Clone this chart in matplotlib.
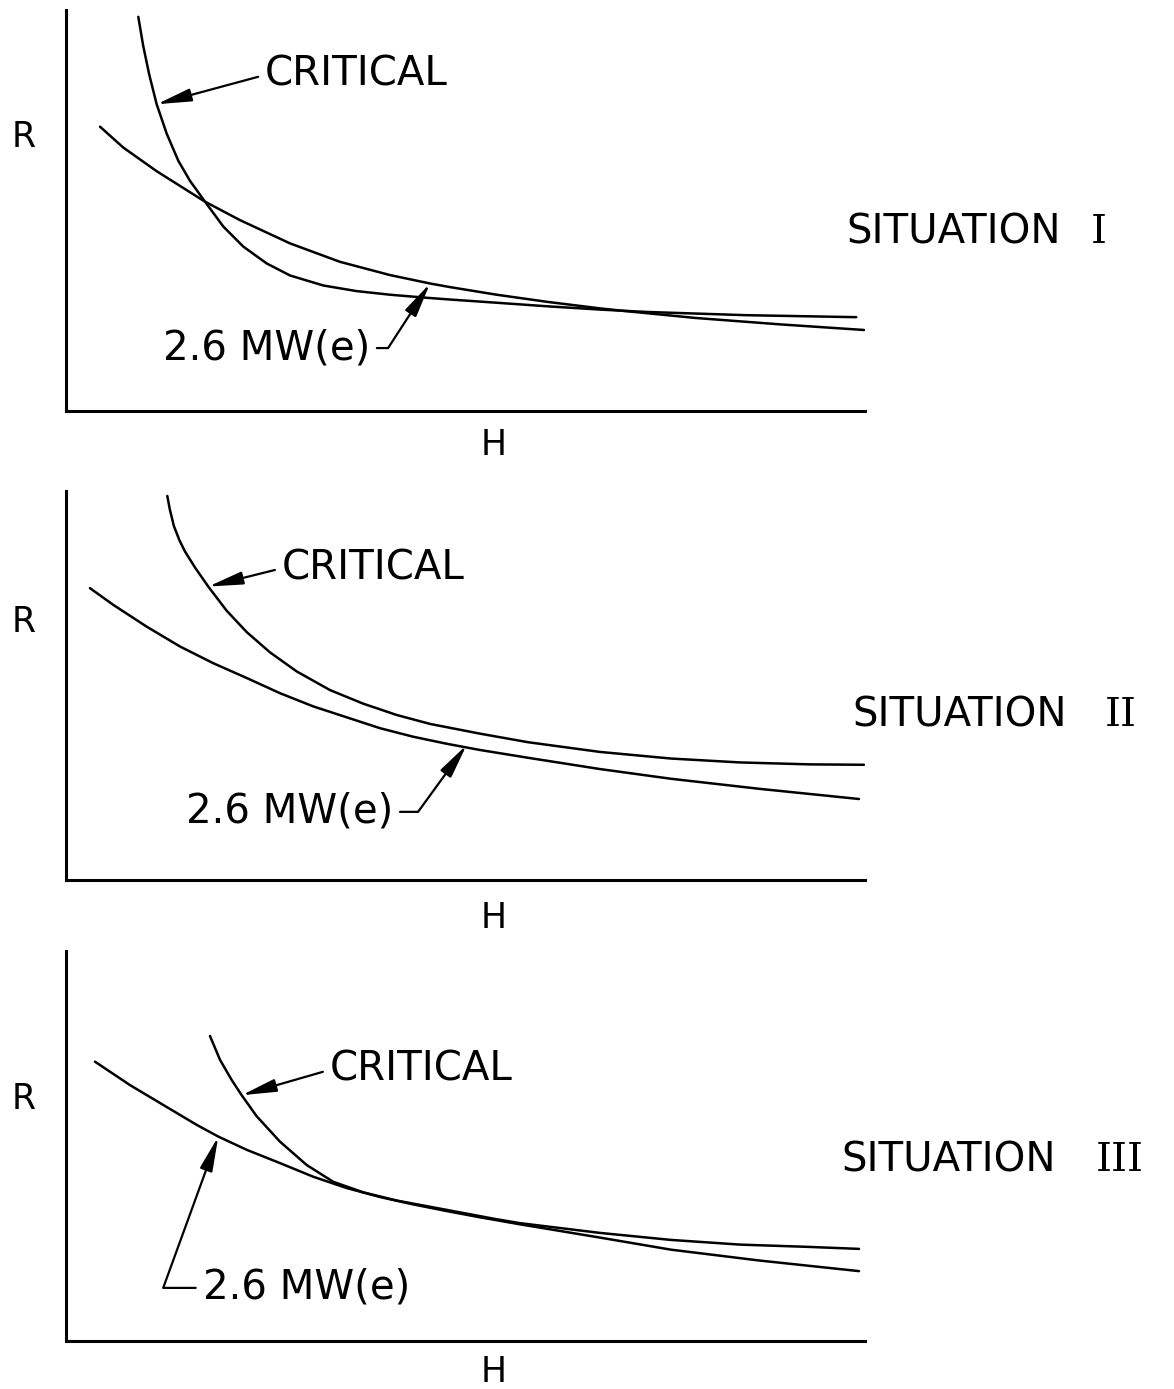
import matplotlib
matplotlib.use("Agg")
import matplotlib.pyplot as plt

# three sketches of R against H (arbitrary units 0-100)
situations = ["I", "II", "III"]

# situation I
h_crit_1 = [9.05, 9.67, 10.43, 11.35, 12.60, 14.06, 15.52, 17.40, 19.69, 22.19, 25.12, 28.04, 32.20, 36.38,
            40.55, 44.72, 48.06, 53.9, 60.3, 66.8, 72.7, 85.0, 98.9]
r_crit_1 = [98.3, 91.0, 83.8, 76.5, 69.2, 62.4, 57.4, 52.2, 46.0, 41.0, 36.8, 33.8, 31.3, 29.9,
            29.0, 28.3, 27.8, 27.0, 26.1, 25.3, 24.7, 23.9, 23.4]
h_mw_1 = [4.26, 7.17, 11.35, 17.40, 21.78, 28.04, 34.29, 40.55, 45.56, 48.06, 53.9, 60.3, 66.8, 69.6,
          78.8, 89.4, 99.9]
r_mw_1 = [70.9, 65.7, 59.8, 52.2, 47.6, 41.8, 37.2, 33.9, 31.8, 30.9, 29.0, 27.2, 25.6, 25.0,
          23.2, 21.6, 20.2]

# situation II
h_crit_2 = [12.68, 13.0, 13.5, 14.2, 14.9, 16.15, 17.81, 20.11, 22.62, 25.53, 28.87, 33.04, 37.21, 41.39,
            45.56, 51.81, 57.82, 66.83, 75.72, 84.36, 93.12, 99.87]
r_crit_2 = [98.7, 95.2, 91.0, 87.3, 84.4, 80.3, 75.4, 69.2, 63.7, 58.5, 53.6, 48.8, 45.3, 42.4,
            40.1, 37.6, 35.4, 32.9, 31.2, 30.2, 29.7, 29.6]
h_mw_2 = [3.00, 5.92, 10.10, 14.27, 18.44, 22.62, 26.78, 30.95, 35.13, 39.30, 43.47, 47.65, 51.81,
          57.82, 66.83, 75.72, 86.86, 99.25]
r_mw_2 = [75.0, 70.7, 65.1, 60.0, 55.7, 51.9, 48.0, 44.6, 41.8, 39.0, 36.8, 35.0, 33.4,
          31.4, 28.5, 26.0, 23.4, 20.8]

# situation III
h_crit_3 = [18.02, 19.27, 20.74, 21.99, 23.87, 26.78, 30.13, 33.45, 37.21, 41.39, 47.65, 53.90, 56.82,
            66.83, 75.72, 84.36, 93.12, 99.25]
r_crit_3 = [78.2, 72.1, 66.9, 63.0, 57.6, 51.1, 45.1, 40.8, 38.1, 36.0, 33.6, 31.2, 30.2,
            27.7, 25.9, 24.7, 24.1, 23.6]
h_mw_3 = [3.63, 8.01, 12.18, 16.36, 19.06, 22.62, 26.78, 30.95, 35.13, 39.30, 43.47, 47.65, 51.81,
          56.82, 66.83, 75.72, 86.86, 99.25]
r_mw_3 = [71.6, 65.6, 60.5, 55.4, 52.4, 49.0, 45.6, 42.1, 39.2, 36.9, 35.0, 33.3, 31.7,
          29.9, 26.5, 23.4, 20.6, 17.9]

crit_h = [h_crit_1, h_crit_2, h_crit_3]
crit_r = [r_crit_1, r_crit_2, r_crit_3]
mw_h = [h_mw_1, h_mw_2, h_mw_3]
mw_r = [r_mw_1, r_mw_2, r_mw_3]

# where the arrows point (on the curves) and where the labels sit
crit_tip = [(11.35, 76.5), (17.81, 75.4), (21.99, 63.0)]
crit_txt = [(24.9, 83.8), (27.0, 80.1), (33.0, 69.5)]
mw_tip = [(45.56, 31.8), (50.15, 34.7), (19.06, 52.4)]
mw_txt = [(12.1, 15.7), (15.0, 17.5), (17.1, 13.6)]
mw_side = ["right", "right", "left"]
mw_angle = [57, 54, 70]

axes_box = [
    [0.0562, 0.7041, 0.6806, 0.2887],
    [0.0562, 0.3665, 0.6806, 0.2801],
    [0.0562, 0.0346, 0.6806, 0.2808],
]
r_pos = [0.683, 0.663, 0.621]
h_pos = [-0.085, -0.098, -0.079]
sit_pos = [(0.977, 1.283, 0.446), (0.984, 1.300, 0.422), (0.971, 1.289, 0.462)]

plt.rcParams["font.family"] = ["DejaVu Sans"]
fs = 29
arrow = dict(arrowstyle="-|>,head_length=1.5,head_width=0.28", color="black", lw=1.6,
             mutation_scale=14, shrinkA=3, shrinkB=0)

fig = plt.figure(figsize=(11.74, 13.89), dpi=100)
for i in range(3):
    ax = fig.add_axes(axes_box[i])
    ax.plot(crit_h[i], crit_r[i], color="black", lw=1.8, solid_capstyle="round", solid_joinstyle="round")
    ax.plot(mw_h[i], mw_r[i], color="black", lw=1.8, solid_capstyle="round", solid_joinstyle="round")
    ax.set_xlim(0, 100)
    ax.set_ylim(0, 100)
    ax.set_xticks([])
    ax.set_yticks([])
    for s in ["top", "right"]:
        ax.spines[s].set_visible(False)
    for s in ["left", "bottom"]:
        ax.spines[s].set_linewidth(2.2)

    ax.set_ylabel("R", rotation=0, fontsize=25, va="center", ha="center")
    ax.yaxis.set_label_coords(-0.0526, r_pos[i])
    ax.set_xlabel("H", fontsize=25, va="center", ha="center")
    ax.xaxis.set_label_coords(0.535, h_pos[i])

    # CRITICAL label with arrow
    a = dict(arrow)
    a["relpos"] = (0, 0.5)
    ax.annotate("CRITICAL", xy=crit_tip[i], xytext=crit_txt[i], ha="left", va="center",
                fontsize=fs, arrowprops=a)

    # 2.6 MW(e) label with bent leader
    a = dict(arrow)
    if mw_side[i] == "right":
        a["relpos"] = (1, 0.5)
    else:
        a["relpos"] = (0, 0.5)
    a["connectionstyle"] = "angle,angleA=0,angleB=%d,rad=0" % mw_angle[i]
    ax.annotate("2.6 MW(e)", xy=mw_tip[i], xytext=mw_txt[i], ha="left", va="center",
                fontsize=fs, arrowprops=a)

    x0, xn, y0 = sit_pos[i]
    ax.text(x0, y0, "SITUATION", transform=ax.transAxes, ha="left", va="center", fontsize=fs)
    ax.text(xn, y0, situations[i], transform=ax.transAxes, ha="left", va="center",
            fontsize=fs, family="DejaVu Serif")

fig.savefig("out.png", dpi=100)
